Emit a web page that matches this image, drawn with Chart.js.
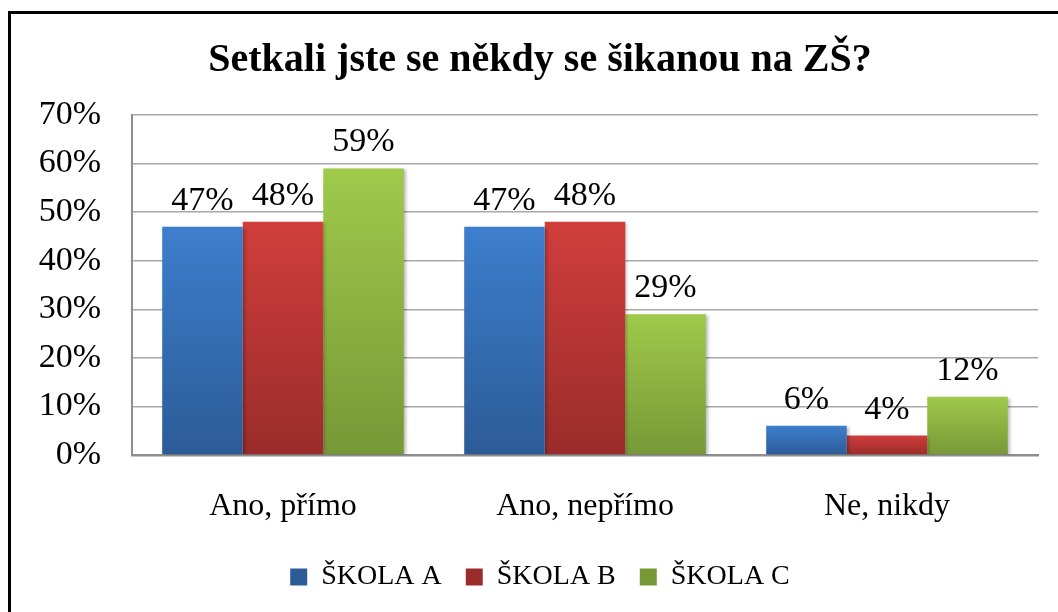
<!DOCTYPE html>
<html><head><meta charset="utf-8">
<script src="https://cdn.jsdelivr.net/npm/chart.js@4"></script>
<style>
html,body{margin:0;padding:0;background:#fff;overflow:hidden;width:1058px;height:612px;}
#frame{position:absolute;left:8px;top:11px;width:1080px;height:640px;border:3px solid #000;}
#wrap{position:absolute;left:0;top:0;width:1058px;height:600px;}
</style></head>
<body>
<div id="frame"><div id="wrap"><canvas id="c" width="1058" height="600"></canvas></div></div>
<script>
const titleText = 'Setkali jste se někdy se šikanou na ZŠ?';
const categories = ['Ano, přímo', 'Ano, nepřímo', 'Ne, nikdy'];
const seriesNames = ['ŠKOLA A', 'ŠKOLA B', 'ŠKOLA C'];
const skolaA = [47, 47, 6];
const skolaB = [48, 48, 4];
const skolaC = [59, 29, 12];
const yTickValues = [0, 10, 20, 30, 40, 50, 60, 70];
const yTickLabels = ['0%', '10%', '20%', '30%', '40%', '50%', '60%', '70%'];

const SERIF = '"Liberation Serif", "DejaVu Serif", serif';

function grad(top, bottom, solid) {
  return (ctx) => {
    const chart = ctx.chart;
    if (!chart.chartArea || ctx.type !== 'data' || ctx.raw === undefined) return solid;
    const ys = chart.scales.y;
    const y0 = ys.getPixelForValue(ctx.raw), y1 = ys.getPixelForValue(0);
    if (!isFinite(y0) || !isFinite(y1) || y0 === y1) return solid;
    const g = chart.ctx.createLinearGradient(0, y0, 0, y1);
    g.addColorStop(0, top);
    g.addColorStop(1, bottom);
    return g;
  };
}

const barDecor = {
  id: 'barDecor',
  beforeDatasetsDraw(chart) {
    const c = chart.ctx;
    c.save();
    c.shadowColor = 'rgba(0,0,0,0.28)';
    c.shadowBlur = 3;
    c.shadowOffsetX = 2;
    c.shadowOffsetY = 1;
  },
  afterDatasetsDraw(chart) {
    const c = chart.ctx;
    c.restore();
    c.save();
    c.font = '34px ' + SERIF;
    c.fillStyle = '#000';
    c.textAlign = 'center';
    c.textBaseline = 'alphabetic';
    chart.data.datasets.forEach((ds, i) => {
      const meta = chart.getDatasetMeta(i);
      meta.data.forEach((bar, j) => {
        c.fillText(ds.data[j] + '%', bar.x, bar.y - 17);
      });
    });
    c.restore();
  }
};

new Chart(document.getElementById('c'), {
  type: 'bar',
  data: {
    labels: categories,
    datasets: [
      { label: seriesNames[0], data: skolaA, backgroundColor: grad('#3d7ecd', '#2c5b97', '#3569b0') },
      { label: seriesNames[1], data: skolaB, backgroundColor: grad('#d03e3b', '#9a2c2b', '#bb3835') },
      { label: seriesNames[2], data: skolaC, backgroundColor: grad('#9fca4b', '#779837', '#8bb042') }
    ]
  },
  options: {
    responsive: false,
    animation: false,
    devicePixelRatio: 1,
    layout: { padding: { left: 0, right: 0, top: 0, bottom: 13 } },
    datasets: { bar: { categoryPercentage: 0.8, barPercentage: 1.0, borderWidth: 0 } },
    plugins: {
      title: {
        display: true,
        text: titleText,
        color: '#000',
        font: { family: SERIF, size: 40, weight: 'bold' },
        padding: { top: 23, bottom: 30 }
      },
      legend: {
        position: 'bottom',
        labels: {
          color: '#000',
          boxWidth: 17,
          boxHeight: 17,
          padding: 24,
          font: { family: SERIF, size: 28 }
        }
      },
      tooltip: { enabled: false }
    },
    scales: {
      x: {
        grid: { display: true, color: 'rgba(0,0,0,0)', drawTicks: false },
        border: { display: true, color: '#8e8e8e', width: 2.5 },
        ticks: { color: '#000', font: { family: SERIF, size: 32 }, padding: 32, maxRotation: 0 },
        afterFit(s) { s.height = 84; }
      },
      y: {
        min: 0, max: 70,
        afterBuildTicks(s) { s.ticks = yTickValues.map(v => ({ value: v })); },
        grid: { color: '#a8a8a8', lineWidth: 1.5, drawTicks: false },
        border: { display: true, color: '#8e8e8e', width: 2 },
        ticks: {
          color: '#000',
          font: { family: SERIF, size: 34 },
          padding: 31,
          callback: (v, i) => yTickLabels[i]
        },
        afterFit(s) { s.width = 121; }
      },
      yRight: {
        position: 'right',
        display: true,
        min: 0, max: 70,
        grid: { display: false, drawTicks: false },
        border: { display: false },
        ticks: { display: false },
        afterFit(s) { s.width = 31; }
      }
    }
  },
  plugins: [barDecor]
});
</script>
</body></html>
